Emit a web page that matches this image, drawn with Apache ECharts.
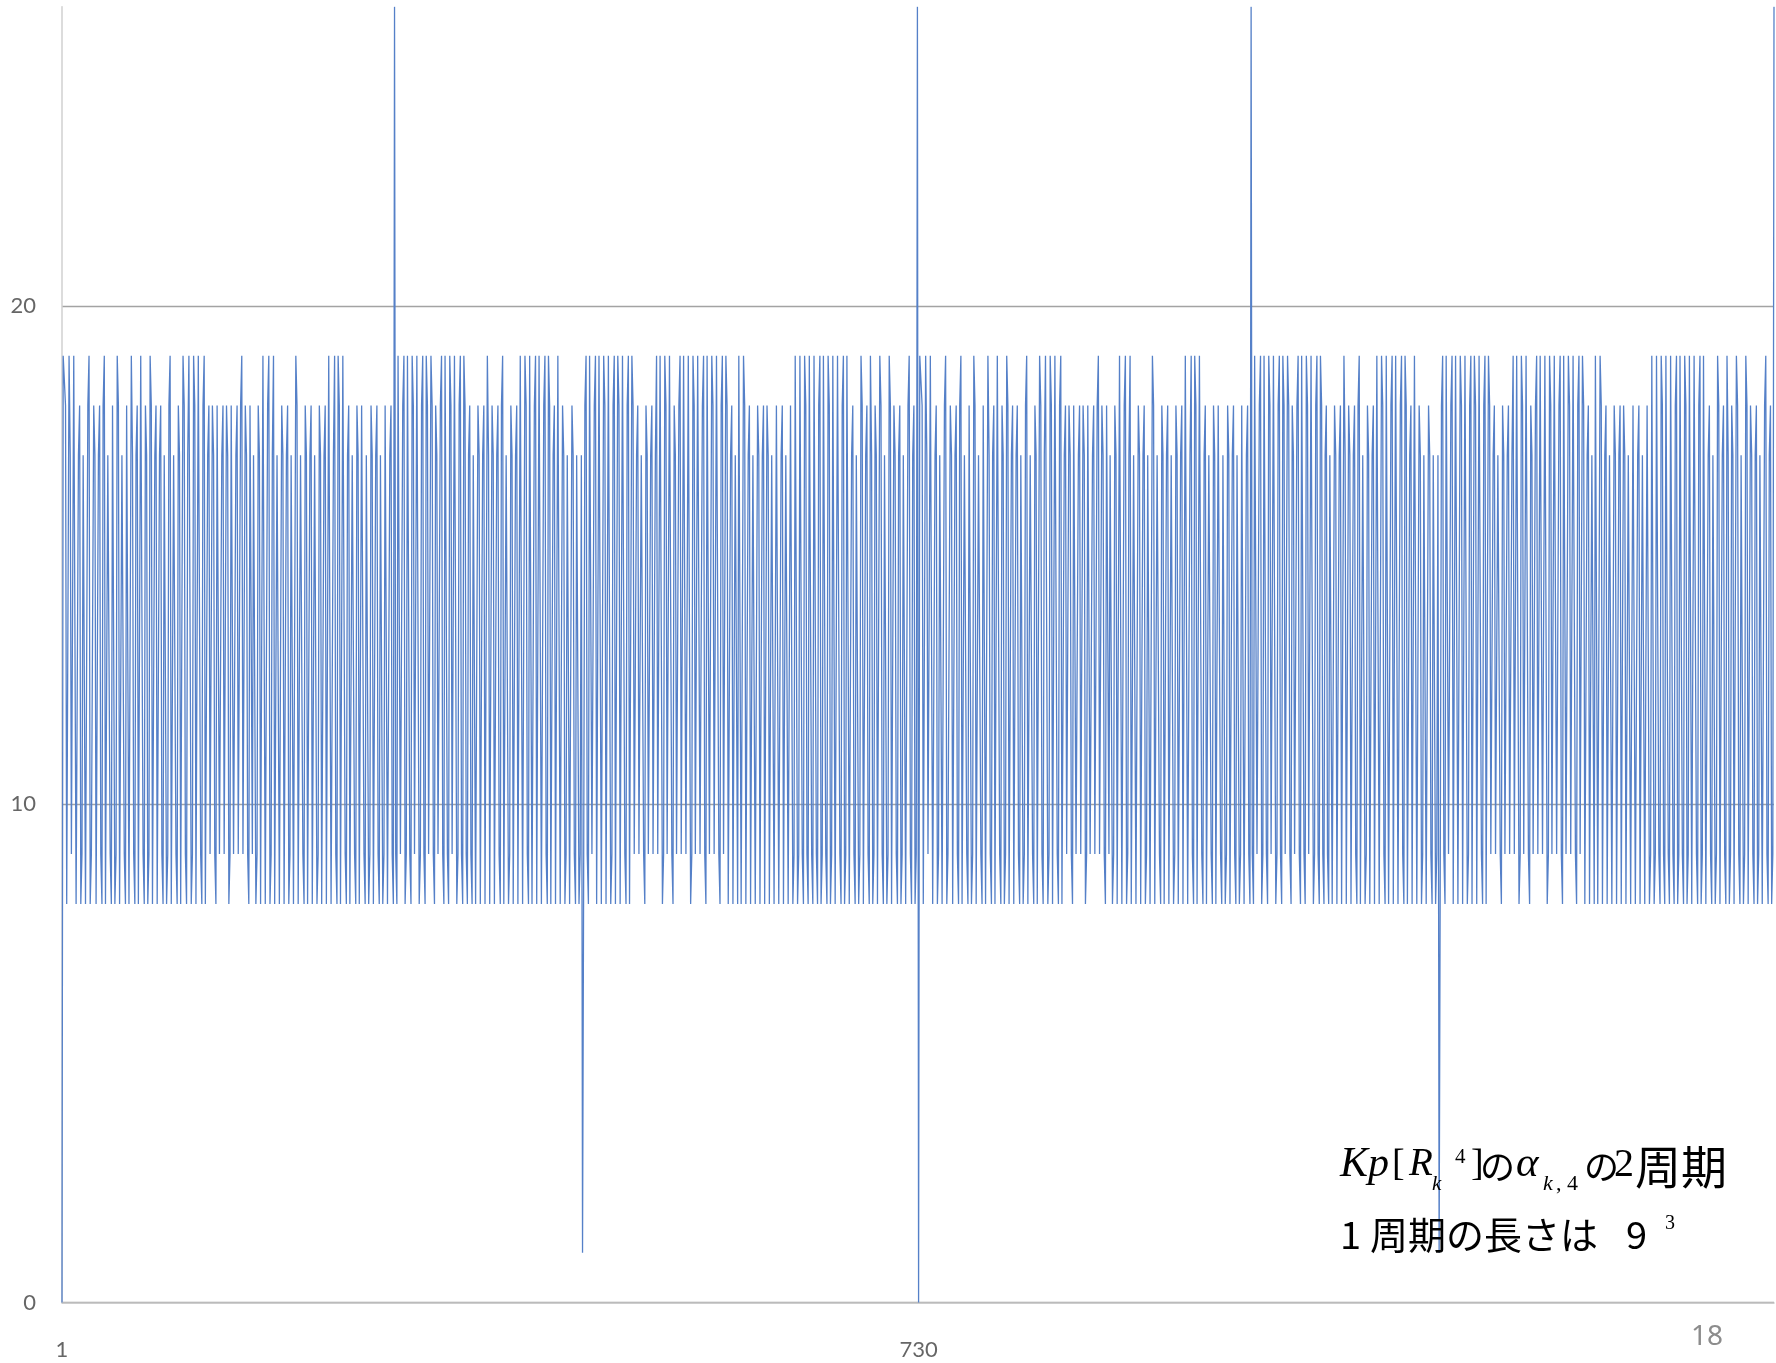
<!DOCTYPE html>
<html><head><meta charset="utf-8">
<script src="https://cdn.jsdelivr.net/npm/echarts@6/dist/echarts.min.js"></script>
<style>html,body{margin:0;padding:0;background:#fff}#c{width:1776px;height:1363px}</style>
</head><body><div id="c"></div>
<script>
// One period (9^3 = 729 values) of Kp[R_k^4] α_{k,4}
const cycleValues = [
  // idx 0-80
  0,19,19,18,8,8,19,17,9, 9,19,19,8,8,17,18,8,9, 17,17,8,8,18,19,8,9,9,
  18,17,8,8,17,18,9,8,18, 19,8,8,17,17,9,8,18,18, 8,9,19,18,8,8,17,17,9,
  8,18,18,8,8,19,17,9,8, 17,18,8,8,19,19,9,8,18, 17,8,9,19,18,8,8,17,18,
  // idx 81-161
  8,8,17,18,9,8,17,17,8, 9,18,19,8,8,17,17,9,8, 18,17,8,8,19,18,9,8,17,
  19,19,8,9,19,18,8,8,19, 19,9,8,18,19,8,8,17,18, 9,9,18,17,9,8,18,18,9,
  9,17,18,9,9,18,17,8,9, 18,18,9,9,17,18,9,9,18, 19,9,9,18,17,9,8,18,18,
  // idx 162-242
  9,17,17,8,9,18,17,8,8, 19,19,8,8,18,19,8,9,17, 19,8,8,17,17,8,8,18,17,
  8,8,17,18,8,9,17,17,8, 8,19,18,8,8,17,17,9,8, 18,17,8,8,17,18,8,8,17,
  17,8,9,18,17,8,8,17,18, 8,8,19,19,8,8,17,19,9, 8,19,18,8,8,19,19,9,8,
  // idx 243-323
  17,18,8,8,17,17,9,8,18, 17,8,8,18,18,9,8,17,17, 8,9,18,17,8,8,17,18,9,
  8,17,17,8,9,18,18,8,8, 17,18,9,8,26,9,8,19,19, 9,9,18,19,8,9,19,19,9,
  8,19,18,9,9,19,19,8,9, 18,19,9,8,19,18,9,9,19, 18,9,8,18,17,9,9,18,19,
  // idx 324-404
  9,8,19,19,9,8,19,18,9, 9,19,19,8,9,18,19,9,8, 19,18,9,8,17,18,9,8,17,
  17,8,8,18,17,8,8,17,18, 8,8,19,17,8,8,18,17,8, 8,17,18,9,8,18,19,8,8,
  17,17,8,9,18,17,8,8,17, 18,8,8,19,19,8,8,19,18, 9,8,19,19,8,8,18,19,8,
  // idx 405-485
  8,19,19,8,8,18,19,9,8, 19,18,8,8,17,18,8,8,19, 19,8,8,18,17,8,9,17,17,
  8,8,18,17,9,8,17,17,8, 9,17,1,9,18,19,9,8,19, 19,9,9,18,19,8,8,19,19,
  8,8,19,18,8,8,19,19,8, 9,18,19,8,8,19,18,8,8, 19,19,9,8,18,19,8,8,19,
  // idx 486-566
  18,9,9,17,18,9,9,17,17, 9,8,18,17,9,9,17,18,9, 9,17,19,9,9,19,19,8,9,
  19,18,9,9,19,19,9,8,18, 17,9,9,18,19,9,9,19,19, 9,9,19,19,8,9,19,18,9,
  9,19,19,9,9,18,19,9,8, 19,19,9,9,19,18,9,9,19, 19,9,8,18,19,9,9,19,18,
  // idx 567-647
  8,8,17,18,8,8,17,17,8, 19,19,8,8,19,18,8,8,17, 18,8,8,17,17,8,8,18,17,
  8,8,17,18,8,8,18,17,8, 8,17,17,8,8,18,18,8,8, 17,18,8,8,17,17,8,8,18,
  18,8,9,19,19,8,9,19,19, 9,8,19,18,9,8,19,19,9, 8,19,19,9,8,18,19,8,9,
  // idx 648-728
  19,19,9,8,19,18,8,9,19, 19,8,8,19,19,9,8,18,19, 8,9,19,19,8,8,17,18,9,
  8,17,17,8,9,19,18,8,8, 17,18,9,8,19,17,8,9,18, 17,8,8,19,18,9,8,17,17,
  8,9,19,18,8,8,18,17,9, 8,17,18,8,9,17,17,8,8, 18,19,9,8,17,18,8,9,26
];
const seriesValues = cycleValues.concat(cycleValues); // the chart shows two periods
const xTickLabels = ['1', '730'];
const yTicks = [0, 10, 20];

const categories = seriesValues.map((_, i) => String(i + 1));

const chart = echarts.init(document.getElementById('c'), null, {renderer: 'canvas'});
const serif = '"Liberation Serif", "DejaVu Serif", serif';
const cjk = '"Noto Sans CJK JP", "Noto Sans", sans-serif';
function t(x, y, text, font, extra) {
  return Object.assign({type: 'text', x: x, y: y, z: 100,
    style: Object.assign({text: text, font: font, fill: '#000', align: 'left', verticalAlign: 'middle'}, extra || {})});
}
chart.setOption({
  animation: false,
  backgroundColor: '#ffffff',
  grid: {left: 62, right: 2, top: 6.8, bottom: 60.4, containLabel: false},
  xAxis: {
    type: 'category', data: categories, boundaryGap: false,
    axisLine: {show: true, lineStyle: {color: '#c4c4c4', width: 1.5}},
    axisTick: {show: false},
    splitLine: {show: false},
    axisLabel: {
      interval: (idx, val) => xTickLabels.includes(val),
      margin: 36, fontSize: 22, color: '#666666', fontFamily: 'Lato, "Open Sans", sans-serif'
    }
  },
  yAxis: {
    type: 'value', min: 0, max: 26, interval: 10,
    axisLine: {show: true, lineStyle: {color: '#d0d0d0', width: 1.5}},
    axisTick: {show: false},
    splitLine: {show: true, lineStyle: {color: ['#a3a3a3', '#a3a3a3', '#a3a3a3', 'rgba(0,0,0,0)'], width: 1.3}},
    axisLabel: {
      formatter: v => (yTicks.includes(v) ? String(v) : ''),
      showMaxLabel: false,
      margin: 26, fontSize: 22, color: '#666666', fontFamily: 'Lato, "Open Sans", sans-serif'
    }
  },
  series: [{
    type: 'line', data: seriesValues, symbol: 'none', sampling: 'none',
    lineStyle: {color: '#5580c8', width: 1.3}, z: 3
  }],
  graphic: [
    t(1340, 1165, 'Kp', 'italic 42px ' + serif),
    t(1392, 1165, '[', '38px ' + serif),
    t(1409, 1165, 'R', 'italic 39px ' + serif),
    t(1432, 1184, 'k', 'italic 21px ' + serif),
    t(1455, 1157, '4', '21px ' + serif),
    t(1471, 1165, ']', '38px ' + serif),
    t(1480, 1167, 'の', '35px ' + cjk),
    t(1516, 1165, 'α', 'italic 43px ' + serif),
    t(1543, 1184, 'k', 'italic 22px ' + serif),
    t(1556, 1184, ',', '22px ' + serif),
    t(1567, 1184, '4', '22px ' + serif),
    t(1584, 1167, 'の', '35px ' + cjk),
    t(1614, 1165, '2', '40px ' + serif),
    t(1635, 1167, '周期', '46px ' + cjk),
    t(1340, 1235, '1', '38px ' + cjk),
    t(1370, 1235, '周期の長さは', '38px ' + cjk),
    t(1626, 1235, '9', '38px ' + cjk),
    t(1665, 1224, '3', '20px ' + serif),
    t(1707, 1337, '18', '28px "Noto Sans", sans-serif', {fill: '#8c8c8c', align: 'center'})
  ]
});
</script>
</body></html>
